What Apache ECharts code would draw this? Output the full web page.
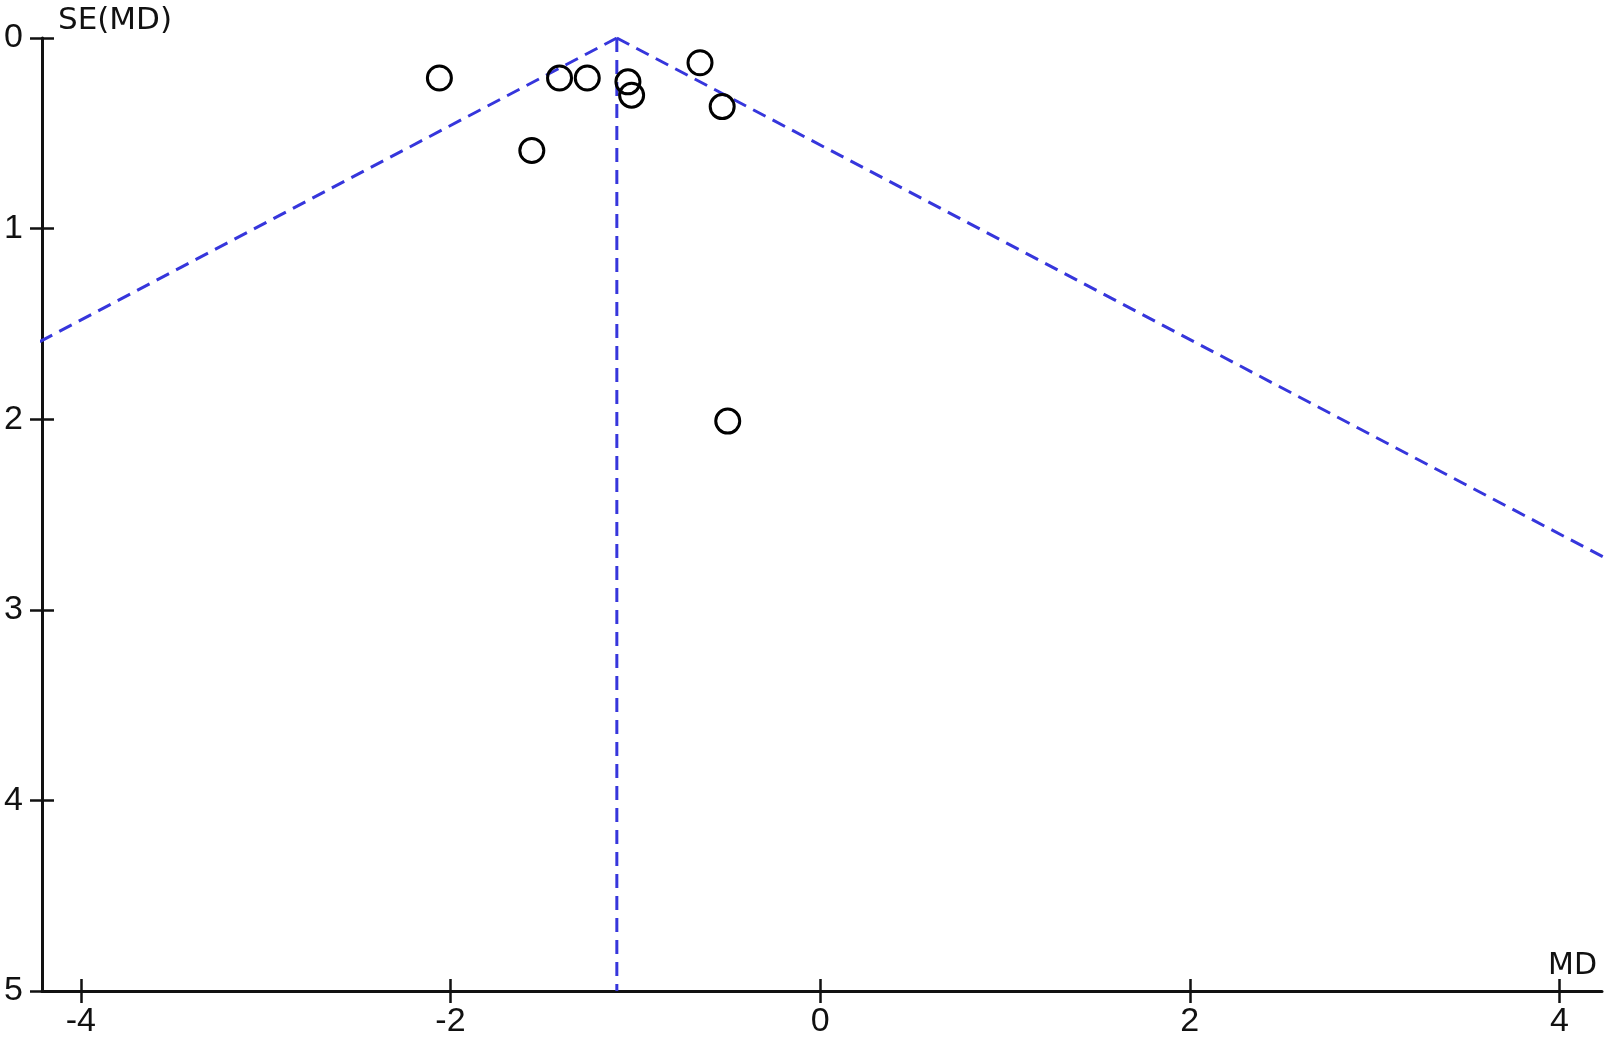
<!doctype html>
<html lang="en">

<head>
	<meta charset="UTF-8">
	<title>Funnel plot</title>
	<style>
		html, body { margin: 0; padding: 0; background: #fff; }
		#funnel { width: 1610px; height: 1040px; }
	</style>
</head>

<body>
	<div id="funnel"></div>

	<script src="https://cdn.jsdelivr.net/npm/echarts@6/dist/echarts.min.js"></script>
	<script>
		// study estimates
		var md = [-2.06, -1.41, -1.26, -1.04, -1.02, -0.65, -0.53, -1.56, -0.50];
		var se = [0.21, 0.21, 0.21, 0.23, 0.30, 0.13, 0.36, 0.59, 2.01];
		// pooled estimate and pseudo 95% limits
		var pooled = -1.10;
		var z = 1.96;
		var seMax = 5;
		var xTicks = [-4, -2, 0, 2, 4];
		var yTicks = [0, 1, 2, 3, 4, 5];

		var points = md.map(function (v, i) { return [v, se[i]]; });
		var leftLimit = [[pooled, 0], [pooled - z * seMax, seMax]];
		var rightLimit = [[pooled, 0], [pooled + z * seMax, seMax]];
		var centre = [[pooled, 0], [pooled, seMax]];

		var labelFont = '"Liberation Sans", Arial, sans-serif';
		var nameFont = '"DejaVu Sans", Verdana, sans-serif';
		var dashStyle = { color: '#3636dc', width: 3, type: [14, 8] };

		var chart = echarts.init(document.getElementById('funnel'));

		var option = {
			animation: false,
			grid: { left: 42, right: 8, top: 38, bottom: 49 },
			xAxis: [
				{
					type: 'value',
					position: 'bottom',
					min: -4.21,
					max: 4.23,
					name: 'MD',
					nameLocation: 'end',
					nameGap: -5,
					nameTextStyle: {
						fontFamily: nameFont, fontSize: 30, color: '#111',
						align: 'right', verticalAlign: 'bottom', padding: [0, 0, 10, 0]
					},
					splitLine: { show: false },
					axisLine: { onZero: false, lineStyle: { color: '#111', width: 3 } },
					axisTick: { length: 12, lineStyle: { color: '#111', width: 2.5 }, customValues: xTicks },
					axisLabel: {
						customValues: xTicks, margin: 14,
						fontFamily: labelFont, fontSize: 34, color: '#111'
					}
				},
				{
					// inner half of the crossing ticks
					type: 'value',
					position: 'bottom',
					min: -4.21,
					max: 4.23,
					splitLine: { show: false },
					axisLine: { show: false, onZero: false },
					axisTick: { inside: true, length: 12, lineStyle: { color: '#111', width: 2.5 }, customValues: xTicks },
					axisLabel: { show: false }
				}
			],
			yAxis: [
				{
					type: 'value',
					position: 'left',
					inverse: true,
					min: 0,
					max: 5,
					interval: 1,
					name: 'SE(MD)',
					nameLocation: 'start',
					nameGap: 2,
					nameTextStyle: {
						fontFamily: nameFont, fontSize: 31, color: '#111',
						align: 'left', verticalAlign: 'bottom', padding: [0, 0, 0, 16]
					},
					splitLine: { show: false },
					axisLine: { onZero: false, lineStyle: { color: '#111', width: 3 } },
					axisTick: { length: 12, lineStyle: { color: '#111', width: 2.5 } },
					axisLabel: {
						customValues: yTicks, margin: 19,
						fontFamily: labelFont, fontSize: 34, color: '#111'
					}
				},
				{
					type: 'value',
					position: 'left',
					inverse: true,
					min: 0,
					max: 5,
					interval: 1,
					splitLine: { show: false },
					axisLine: { show: false, onZero: false },
					axisTick: { inside: true, length: 12, lineStyle: { color: '#111', width: 2.5 } },
					axisLabel: { show: false }
				}
			],
			series: [
				{
					type: 'line', data: leftLimit, symbol: 'none', clip: true,
					lineStyle: dashStyle, z: 1
				},
				{
					type: 'line', data: rightLimit, symbol: 'none', clip: true,
					lineStyle: dashStyle, z: 1
				},
				{
					type: 'line', data: centre, symbol: 'none', clip: true,
					lineStyle: dashStyle, z: 1
				},
				{
					type: 'scatter',
					data: points,
					symbol: 'circle',
					symbolSize: 24,
					itemStyle: { color: 'rgba(0,0,0,0)', borderColor: '#000', borderWidth: 3, opacity: 1 },
					z: 3
				}
			]
		};
		chart.setOption(option);
	</script>
</body>

</html>
